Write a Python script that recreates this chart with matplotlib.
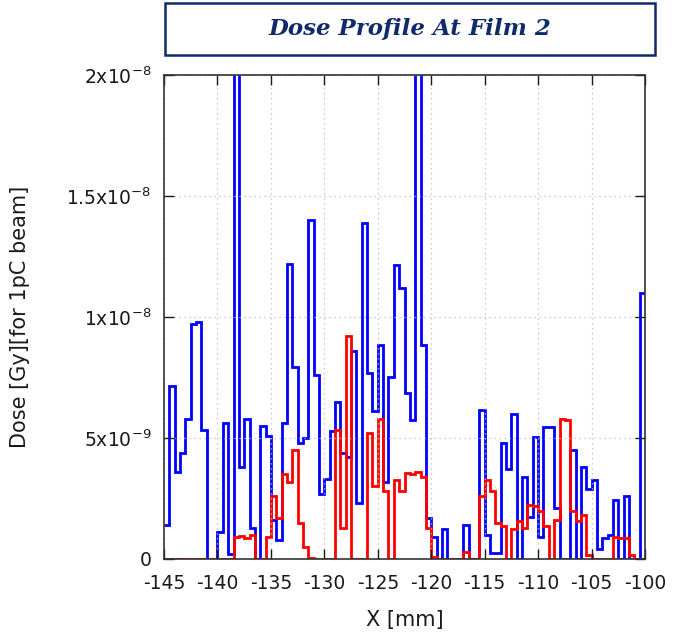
import numpy as np
import matplotlib.pyplot as plt
from matplotlib.patches import Rectangle

plt.rcParams['axes.unicode_minus'] = False

# 0.5 mm bins from -145 to -100 mm
x_edges = np.linspace(-145, -100, 91)

# dose per bin, in units of 1e-9 Gy (for 1 pC beam)
dose_blue = [1.4, 7.15, 3.6, 4.4, 5.8, 9.7, 9.8, 5.35, 0, 0,
             1.1, 5.6, 0.2, 29, 3.8, 5.8, 1.3, 0, 5.5, 5.1,
             1.6, 0.8, 5.6, 12.2, 7.95, 4.8, 5.0, 14.0, 7.6, 2.7,
             3.3, 5.3, 6.5, 4.4, 4.2, 8.6, 2.3, 13.9, 7.7, 6.1,
             8.85, 3.2, 7.5, 12.15, 11.2, 6.85, 5.75, 25, 8.85, 1.7,
             0.9, 0, 1.25, 0, 0, 0, 1.4, 0, 0, 6.15,
             1.0, 0.25, 0.25, 4.8, 3.7, 6.0, 0, 3.4, 1.75, 5.05,
             0.9, 5.45, 5.45, 2.1, 0, 0, 4.5, 0, 3.8, 2.9,
             3.25, 0.4, 0.85, 1.0, 2.45, 0, 2.6, 0, 0, 11.0]

dose_red = [0, 0, 0, 0, 0, 0, 0, 0, 0, 0,
            0, 0, 0, 0.9, 0.95, 0.85, 1.0, 0, 0, 0.9,
            2.6, 1.7, 3.5, 3.2, 4.5, 1.5, 0.5, 0.05, 0, 0,
            0, 0, 5.35, 1.3, 9.2, 0, 0, 0, 5.2, 3.0,
            5.8, 2.8, 0, 3.25, 2.8, 3.55, 3.5, 3.6, 3.4, 1.3,
            0.1, 0, 0, 0, 0, 0, 0.3, 0, 0, 2.6,
            3.25, 2.8, 1.5, 1.35, 0, 1.25, 1.55, 1.3, 2.25, 2.2,
            2.0, 1.35, 0, 1.6, 5.8, 5.75, 2.0, 1.55, 1.8, 0.15,
            0, 0, 0, 0, 0.9, 0.85, 0.85, 0.15, 0, 0]

x_ticks = np.arange(-145, -99, 5)
y_ticks = [0, 5e-9, 1e-8, 1.5e-8, 2e-8]
y_tick_labels = ['0', r'5x10$^{-9}$', r'1x10$^{-8}$', r'1.5x10$^{-8}$', r'2x10$^{-8}$']

fig = plt.figure(figsize=(6.75, 6.35), dpi=100)
ax = fig.add_axes([0.243, 0.1197, 0.7126, 0.7622])

ax.stairs(np.array(dose_blue) * 1e-9, x_edges, baseline=None, color='#0000ff', lw=2.0)
ax.stairs(np.array(dose_red) * 1e-9, x_edges, baseline=None, color='#ff0000', lw=2.0)

ax.set_xlim(-145, -100)
ax.set_ylim(0, 2e-8)
ax.set_xticks(x_ticks)
ax.set_yticks(y_ticks)
ax.set_yticklabels(y_tick_labels)
ax.tick_params(direction='in', length=7, width=1, top=True, right=True,
               labelsize=13.5, colors='#1a1a1a', pad=9)
ax.tick_params(axis='x', pad=11)
ax.grid(True, linestyle=(0, (1, 3)), color='#bbbbbb', lw=0.9)
for s in ax.spines.values():
    s.set_linewidth(1.2)
    s.set_color('#333333')

ax.set_xlabel('X [mm]', fontsize=15, color='#1a1a1a', labelpad=12)
ax.set_ylabel('Dose [Gy][for 1pC beam]', fontsize=15, color='#1a1a1a', labelpad=26)

# title banner
fig.patches.append(Rectangle((0.2444, 0.9134), 0.726, 0.0819, transform=fig.transFigure,
                             fill=False, edgecolor='#102a6b', lw=1.8))
fig.text(0.607, 0.954, 'Dose Profile At Film 2', ha='center', va='center',
         fontsize=16.5, fontweight='bold', fontstyle='italic',
         family='DejaVu Serif', color='#102a6b')

plt.savefig('out.png', dpi=100)
plt.close('all')
